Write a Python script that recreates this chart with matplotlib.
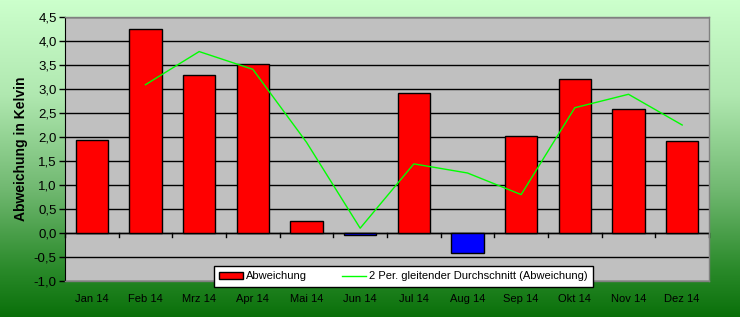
import numpy as np
import matplotlib
matplotlib.use("Agg")
import matplotlib.pyplot as plt
from matplotlib.colors import LinearSegmentedColormap

plt.rcParams['font.family'] = ['Liberation Sans', 'DejaVu Sans']

months = ["Jan 14", "Feb 14", "Mrz 14", "Apr 14", "Mai 14", "Jun 14",
          "Jul 14", "Aug 14", "Sep 14", "Okt 14", "Nov 14", "Dez 14"]
abweichung = [1.93, 4.25, 3.30, 3.52, 0.25, -0.05, 2.92, -0.42, 2.02, 3.20, 2.58, 1.92]
gleitend = [None, 3.09, 3.78, 3.41, 1.89, 0.10, 1.44, 1.25, 0.80, 2.61, 2.89, 2.25]
yticks = [-1.0, -0.5, 0.0, 0.5, 1.0, 1.5, 2.0, 2.5, 3.0, 3.5, 4.0, 4.5]

W, H = 740, 317
fig = plt.figure(figsize=(W / 100, H / 100), dpi=100)

# gradient background
bg = fig.add_axes([0, 0, 1, 1])
cmap = LinearSegmentedColormap.from_list(
    "g", [(0.0, "#CCFFCC"), (0.3, "#B0E8B0"), (0.6, "#70B870"), (0.85, "#2A8A2A"), (1.0, "#0A700A")])
grad = np.linspace(0, 1, 256).reshape(-1, 1)
bg.imshow(grad, aspect="auto", cmap=cmap, extent=[0, 1, 0, 1], origin="upper")
bg.set_axis_off()

left, right, top, bottom = 65, 709, 17, 281
ax = fig.add_axes([left / W, 1 - bottom / H, (right - left) / W, (bottom - top) / H])
ax.set_facecolor("#C0C0C0")

x = np.arange(len(months))
colors = ["#FF0000" if v >= 0 else "#0000FF" for v in abweichung]
bars = ax.bar(x, abweichung, width=0.6, color=colors, edgecolor="black", linewidth=1.0, zorder=3,
              label="Abweichung")
gx = [i for i, v in enumerate(gleitend) if v is not None]
gy = [v for v in gleitend if v is not None]
line, = ax.plot(gx, gy, color="#00FF00", linewidth=1.0, zorder=4,
                label="2 Per. gleitender Durchschnitt (Abweichung)")

ax.set_xlim(-0.5, len(months) - 0.5)
ax.set_ylim(-1.0, 4.5)
ax.set_yticks(yticks)
ax.set_yticklabels([f"{t:.1f}".replace(".", ",") for t in yticks], fontsize=9.5)
ax.yaxis.grid(True, color="black", linewidth=1.0, zorder=1)
ax.set_axisbelow(True)
ax.tick_params(axis="y", length=4, width=1, direction="out", pad=2)

ax.set_xticks(x)
ax.set_xticklabels(months, fontsize=8)
ax.tick_params(axis="x", length=0, pad=9)

# zero axis with category separator ticks
ax.axhline(0, color="black", linewidth=1.0, zorder=2)
for b in np.arange(-0.5, len(months), 1.0):
    ax.plot([b, b], [0, -0.08], color="black", linewidth=1.0, zorder=2, clip_on=False)

for s in ["top", "right", "bottom"]:
    ax.spines[s].set_color("#808080")
    ax.spines[s].set_linewidth(1.0)
ax.spines["left"].set_color("black")

ax.set_ylabel("Abweichung in Kelvin", fontsize=10, fontweight="bold", labelpad=4)

lx = ((207 + 600) / 2 - left) / (right - left)
ly = (bottom - 287) / (bottom - top)
leg = ax.legend([bars, line], [bars.get_label(), line.get_label()],
                loc="lower center", bbox_to_anchor=(lx, ly),
                ncol=2, fontsize=8, frameon=True, fancybox=False, framealpha=1.0,
                edgecolor="black", handlelength=2.1, handleheight=0.55, columnspacing=3.2,
                borderpad=0.5, handletextpad=0.3, borderaxespad=0)
leg.get_frame().set_linewidth(1.0)
leg.set_zorder(10)

fig.savefig("out.png", dpi=100)
